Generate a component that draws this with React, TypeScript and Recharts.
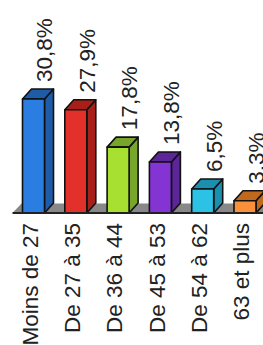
import { BarChart, Bar, XAxis, YAxis, LabelList, ReferenceArea } from 'recharts';

const categories = ['Moins de 27', 'De 27 à 35', 'De 36 à 44', 'De 45 à 53', 'De 54 à 62', '63 et plus'];
const shares = [30.8, 27.9, 17.8, 13.8, 6.5, 3.3];

const frontColors = ['#2a7de1', '#e2302a', '#a8e032', '#8434d2', '#2cc2e6', '#f8913a'];
const sideColors = ['#1f5ca8', '#a81f1a', '#78a62a', '#5c2699', '#1a8fb0', '#c0681c'];

const data = categories.map((name, i) => ({ name, value: shares[i] }));

const DX = 9;
const DY = 10;
const font = '"Liberation Sans", Arial, sans-serif';

const Bar3D = (props: any) => {
    const { x, y, width, height, index } = props;
    const front = frontColors[index];
    const side = sideColors[index];
    const stroke = { stroke: '#111', strokeWidth: 1.6, strokeLinejoin: 'round' as const };
    return (
        <g>
            <polygon points={`${x + width},${y} ${x + width + DX},${y - DY} ${x + width + DX},${y + height - DY} ${x + width},${y + height}`} fill={side} {...stroke} />
            <polygon points={`${x},${y} ${x + DX},${y - DY} ${x + width + DX},${y - DY} ${x + width},${y}`} fill={side} {...stroke} />
            <rect x={x} y={y} width={width} height={height} fill={front} {...stroke} />
        </g>
    );
};

const Floor = (props: any) => {
    const { x, y, width, height } = props;
    return (
        <polygon points={`${x},${y + height} ${x + DX},${y} ${x + width + DX},${y} ${x + width},${y + height}`} fill="#888" />
    );
};

const ValueLabel = (props: any) => {
    const { x, y, width, value } = props;
    const lx = x + width + 8;
    const ly = y - 17;
    return (
        <text x={lx} y={ly} transform={`rotate(-90 ${lx} ${ly})`} textAnchor="start" fontFamily={font} fontSize={22.5} fill="#222">
            {String(value).replace('.', ',') + '%'}
        </text>
    );
};

const CategoryTick = (props: any) => {
    const { x, y, payload } = props;
    const lx = x + 4;
    const ly = y + 8;
    return (
        <text x={lx} y={ly} transform={`rotate(-90 ${lx} ${ly})`} textAnchor="end" fontFamily={font} fontSize={22.5} fill="#222">
            {payload.value}
        </text>
    );
};

export default function App() {
    return (
        <div style={{ position: 'absolute', left: 0, top: 0, width: 263, height: 345, overflow: 'hidden', background: '#fff' }}>
            <BarChart width={270} height={345} data={data} margin={{ top: 65, right: 3.7, bottom: 0, left: 12.5 }} barCategoryGap={0}>
                <YAxis hide domain={[0, 40]} />
                <ReferenceArea y1={0} y2={2.6} shape={<Floor />} ifOverflow="visible" />
                <XAxis dataKey="name" height={132} interval={0} tickLine={false} tickSize={0} axisLine={{ stroke: '#222', strokeWidth: 2 }} tick={<CategoryTick />} />
                <Bar dataKey="value" barSize={22} shape={<Bar3D />} isAnimationActive={false}>
                    <LabelList dataKey="value" content={<ValueLabel />} />
                </Bar>
            </BarChart>
        </div>
    );
}
